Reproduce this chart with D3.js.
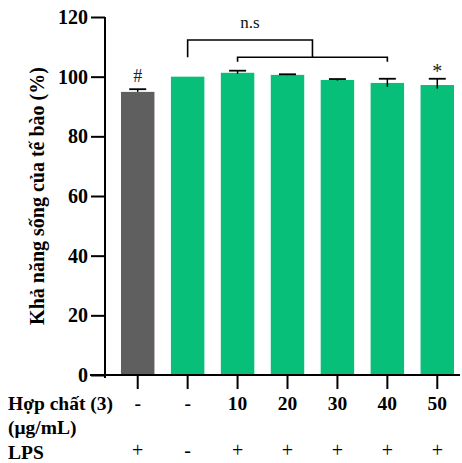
<!DOCTYPE html>
<html>
<head>
<meta charset="utf-8">
<script src="https://cdn.jsdelivr.net/npm/d3@7"></script>
<style>
  body { margin: 0; background: #fff; }
  svg { display: block; }
  svg text { font-family: "Liberation Serif", "Times New Roman", Times, serif; }
</style>
</head>
<body>
<div id="chart"></div>
<script>
// values
const groups = ["g1", "g2", "g3", "g4", "g5", "g6", "g7"];
const viability = [94.9, 100, 101.3, 100.6, 98.9, 97.9, 97.2];
const errTop = [95.8, 100, 102.0, 100.8, 99.2, 99.3, 99.3];
const errBottom = [94.9, 100, 101.0, 100.5, 98.7, 96.6, 96.0];
const compound = ["-", "-", "10", "20", "30", "40", "50"];
const lps = ["+", "-", "+", "+", "+", "+", "+"];
const marks = ["#", "", "", "", "", "", "*"];
const yTicks = [0, 20, 40, 60, 80, 100, 120];

const width = 462;
const height = 463;
const margin = { left: 105, right: 4, top: 17, bottom: 88 };

const svg = d3
  .select("#chart")
  .append("svg")
  .attr("width", width)
  .attr("height", height);

const x = d3
  .scaleBand()
  .domain(groups)
  .range([113, 462])
  .paddingInner(0.33)
  .paddingOuter(0.16);

const y = d3
  .scaleLinear()
  .domain([0, 120])
  .range([height - margin.bottom, margin.top]);

const cx = (i) => x(groups[i]) + x.bandwidth() / 2;

// bars
svg
  .selectAll("rect.bar")
  .data(viability)
  .join("rect")
  .attr("class", "bar")
  .attr("x", (d, i) => x(groups[i]))
  .attr("y", (d) => y(d))
  .attr("width", x.bandwidth())
  .attr("height", (d) => y(0) - y(d))
  .attr("fill", (d, i) => (i === 0 ? "#5f5f5f" : "#07bf78"));

// error bars
groups.forEach((g, i) => {
  if (errTop[i] === viability[i]) return;
  svg
    .append("line")
    .attr("x1", cx(i))
    .attr("x2", cx(i))
    .attr("y1", y(errTop[i]))
    .attr("y2", y(errBottom[i]))
    .attr("stroke", "#000")
    .attr("stroke-width", 1.5);
  svg
    .append("line")
    .attr("x1", cx(i) - 8.5)
    .attr("x2", cx(i) + 8.5)
    .attr("y1", y(errTop[i]))
    .attr("y2", y(errTop[i]))
    .attr("stroke", "#000")
    .attr("stroke-width", 1.8);
});

// significance marks
svg
  .selectAll("text.mark")
  .data(marks)
  .join("text")
  .attr("class", "mark")
  .attr("x", (d, i) => cx(i))
  .attr("y", (d, i) => y(errTop[i]) - (d === "*" ? 1 : 7))
  .attr("text-anchor", "middle")
  .attr("font-size", (d) => (d === "*" ? "20px" : "18px"))
  .attr("fill", "#222")
  .text((d) => d);

// n.s brackets
const upperY = y(112.3);
const lowerY = y(106.5);
const lowerDrop = y(105);
const midX = (cx(2) + cx(5)) / 2;
svg
  .append("path")
  .attr("d", `M${cx(1)},${lowerY} V${upperY} H${midX} V${lowerY}`)
  .attr("fill", "none")
  .attr("stroke", "#000")
  .attr("stroke-width", 1.6);
svg
  .append("path")
  .attr("d", `M${cx(2)},${lowerDrop} V${lowerY} H${cx(5)} V${lowerDrop}`)
  .attr("fill", "none")
  .attr("stroke", "#000")
  .attr("stroke-width", 1.6);
svg
  .append("text")
  .attr("x", (cx(1) + midX) / 2)
  .attr("y", y(116.2))
  .attr("text-anchor", "middle")
  .attr("font-size", "17px")
  .attr("fill", "#111")
  .text("n.s");

// y axis
const yAxis = svg
  .append("g")
  .attr("transform", `translate(${margin.left},0)`)
  .call(d3.axisLeft(y).tickValues(yTicks).tickSize(14).tickPadding(3));
yAxis.attr("font-family", null);
yAxis.select(".domain").attr("d", `M0,${y(120)}V${y(0) + 3}`).attr("stroke-width", 2);
yAxis.selectAll(".tick line").attr("stroke-width", 2);
yAxis
  .selectAll(".tick text")
  .attr("font-size", "20px")
  .attr("font-weight", "bold")
  .attr("fill", "#000");

// x axis
const xAxis = svg
  .append("g")
  .attr("transform", `translate(0,${y(0)})`)
  .call(d3.axisBottom(x).tickSize(14).tickFormat(""));
xAxis.select(".domain").attr("d", "M90,0H460").attr("stroke-width", 2);
xAxis.selectAll(".tick line").attr("stroke-width", 2);

// row labels under the axis
const rowLabels = [
  { text: "Hợp chất (3)", y: 410 },
  { text: "(μg/mL)", y: 434 },
  { text: "LPS", y: 459 },
];
svg
  .selectAll("text.row")
  .data(rowLabels)
  .join("text")
  .attr("class", "row")
  .attr("x", 8)
  .attr("y", (d) => d.y)
  .attr("font-size", "19.5px")
  .attr("font-weight", "bold")
  .text((d) => d.text);

svg
  .selectAll("text.dose")
  .data(compound)
  .join("text")
  .attr("class", "dose")
  .attr("x", (d, i) => cx(i))
  .attr("y", 410)
  .attr("text-anchor", "middle")
  .attr("font-size", "19.5px")
  .attr("font-weight", "bold")
  .text((d) => d);

svg
  .selectAll("text.lps")
  .data(lps)
  .join("text")
  .attr("class", "lps")
  .attr("x", (d, i) => cx(i))
  .attr("y", 457)
  .attr("text-anchor", "middle")
  .attr("font-size", "20px")
  .text((d) => d);

// y title
svg
  .append("text")
  .attr("transform", `translate(44,${(y(0) + y(120)) / 2}) rotate(-90)`)
  .attr("text-anchor", "middle")
  .attr("font-size", "20px")
  .attr("font-weight", "bold")
  .text("Khả năng sống của tế bào (%)");
</script>
</body>
</html>
